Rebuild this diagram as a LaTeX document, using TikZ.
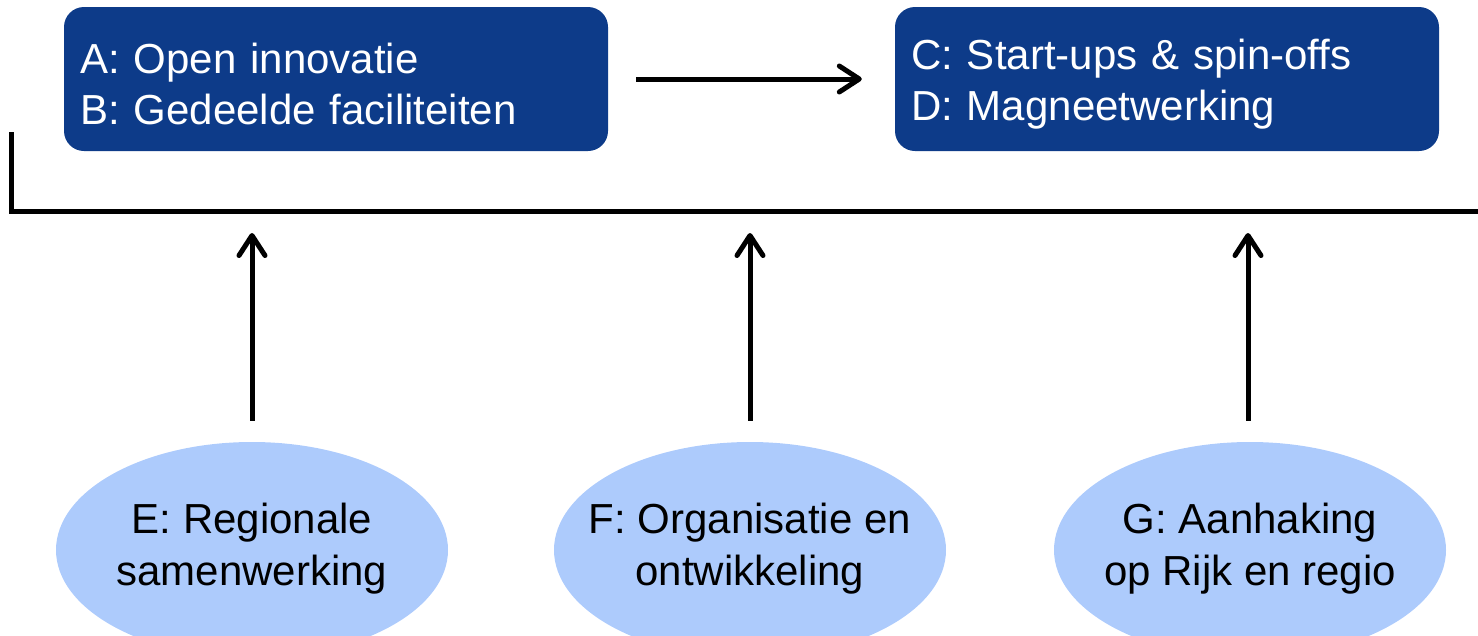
\documentclass[tikz,border=0pt]{standalone}
\usepackage{fontspec}
\setmainfont{Liberation Sans}
\usetikzlibrary{shapes.geometric,arrows.meta}
\definecolor{boxblue}{HTML}{0D3B89}
\definecolor{ellblue}{HTML}{ADCBFC}
\begin{document}
\begin{tikzpicture}[x=1pt,y=-1pt,
  topbox/.style={rectangle, rounded corners=20pt, fill=boxblue,
    minimum width=544pt, minimum height=144pt, inner sep=0pt},
  boxtext/.style={text=white, text width=512pt, align=left, inner sep=0pt,
    font=\fontsize{42}{51}\selectfont},
  srcell/.style={ellipse, fill=ellblue, minimum width=392pt,
    minimum height=216pt, inner sep=0pt},
  elltext/.style={text=black, align=center, inner sep=0pt,
    font=\fontsize{42}{52}\selectfont},
  conn/.style={line width=5pt, -{Straight Barb[length=20pt, width=26pt, line cap=round, line join=round]}},
  bar/.style={line width=5pt}]
\useasboundingbox (0,0) rectangle (1478,635);
\node[topbox] (ab) at (336,79) {};
\node[boxtext] (abt) at (336,84) {A: Open innovatie\\B: Gedeelde faciliteiten};
\node[topbox] (cd) at (1167,79) {};
\node[boxtext] (cdt) at (1167,84) {C: Start-ups \& spin-offs\\D: Magneetwerking};
\draw[conn] ([xshift=28pt]ab.east) -- ([xshift=-33pt]cd.west);
\coordinate (l1) at (11.5,132);
\coordinate (l2) at (11.5,211);
\coordinate (l3) at (1480,211);
\draw[bar] (l1) -- (l2) -- (l3);
\node[srcell] (e) at (252,550) {};
\node[elltext] (et) at (252,549) {E: Regionale\\samenwerking};
\node[srcell] (f) at (750,550) {};
\node[elltext] (ft) at (750,549) {F: Organisatie en\\ontwikkeling};
\node[srcell] (g) at (1250,550) {};
\node[elltext] (gt) at (1250,549) {G: Aanhaking\\op Rijk en regio};
\draw[conn, shorten <=21pt, shorten >=22pt] (e.north) -- (e.north |- l2);
\draw[conn, shorten <=21pt, shorten >=22pt] (f.north) -- (f.north |- l2);
\draw[conn, shorten <=21pt, shorten >=22pt] ([xshift=-2pt]g.north) -- ([xshift=-2pt]g.north |- l2);
\end{tikzpicture}
\end{document}
